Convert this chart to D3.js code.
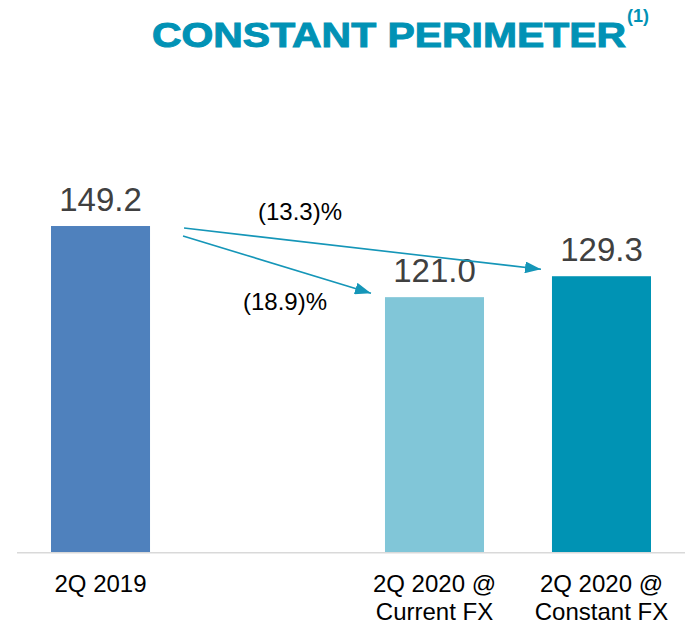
<!DOCTYPE html>
<html>
<head>
<meta charset="utf-8">
<script src="https://cdn.jsdelivr.net/npm/d3@7"></script>
<style>
  body { margin: 0; background: #fff; }
  svg { display: block; font-family: "Liberation Sans", Arial, sans-serif; }
</style>
</head>
<body>
<script>
// chart values
var categories = ["2Q 2019", "2Q 2020 @ Current FX", "2Q 2020 @ Constant FX"];
var categoryLines = [["2Q 2019"], ["2Q 2020 @", "Current FX"], ["2Q 2020 @", "Constant FX"]];
var values = [149.2, 121.0, 129.3];
var valueLabels = ["149.2", "121.0", "129.3"];
var barColors = ["#4f81bd", "#81c6d8", "#0093b4"];
var changeLabels = ["(13.3)%", "(18.9)%"];

var width = 690, height = 627;

var svg = d3.select("body").append("svg")
  .attr("width", width)
  .attr("height", height);

// one empty slot between the first bar and the 2020 bars
var slots = [categories[0], "gap", categories[1], categories[2]];

var x = d3.scaleBand()
  .domain(slots)
  .range([17, 685])
  .paddingInner(0.407)
  .paddingOuter(0.2036);

var y = d3.scaleLinear()
  .domain([20, 150])
  .range([552, 224]);

var bw = x.bandwidth();

// title
svg.append("text")
  .attr("x", 152)
  .attr("y", 47)
  .attr("fill", "#0192b5")
  .attr("stroke", "#0192b5")
  .attr("stroke-width", 1)
  .style("font-size", "35.5px")
  .style("font-weight", "bold")
  .attr("textLength", 474)
  .attr("lengthAdjust", "spacingAndGlyphs")
  .text("CONSTANT PERIMETER");

svg.append("text")
  .attr("x", 627)
  .attr("y", 22)
  .attr("fill", "#0192b5")
  .style("font-size", "18px")
  .style("font-weight", "bold")
  .text("(1)");

// bars
svg.selectAll(".bar")
  .data(values)
  .enter()
  .append("rect")
  .attr("class", "bar")
  .attr("x", function (d, i) { return x(categories[i]); })
  .attr("y", function (d) { return y(d); })
  .attr("width", bw)
  .attr("height", function (d) { return y(20) - y(d); })
  .attr("fill", function (d, i) { return barColors[i]; });

// baseline
svg.append("line")
  .attr("x1", 17)
  .attr("x2", 685)
  .attr("y1", y(20) + 0.8)
  .attr("y2", y(20) + 0.8)
  .attr("stroke", "#d9d9d9")
  .attr("stroke-width", 1.6);

// value labels
svg.selectAll(".value")
  .data(values)
  .enter()
  .append("text")
  .attr("class", "value")
  .attr("x", function (d, i) { return x(categories[i]) + bw / 2; })
  .attr("y", function (d) { return y(d) - 15; })
  .attr("text-anchor", "middle")
  .attr("fill", "#404040")
  .style("font-size", "33px")
  .text(function (d, i) { return valueLabels[i]; });

// category labels
var cat = svg.selectAll(".cat")
  .data(categoryLines)
  .enter()
  .append("text")
  .attr("class", "cat")
  .attr("text-anchor", "middle")
  .attr("fill", "#000")
  .style("font-size", "24px");

cat.selectAll("tspan")
  .data(function (d, i) { return d.map(function (t) { return { t: t, i: i }; }); })
  .enter()
  .append("tspan")
  .attr("x", function (d) { return x(categories[d.i]) + bw / 2; })
  .attr("y", function (d, j) { return 592 + j * 28; })
  .text(function (d) { return d.t; });

// arrows
svg.append("defs").append("marker")
  .attr("id", "head")
  .attr("markerUnits", "userSpaceOnUse")
  .attr("viewBox", "0 0 16 12")
  .attr("refX", 16)
  .attr("refY", 6)
  .attr("markerWidth", 16)
  .attr("markerHeight", 12)
  .attr("orient", "auto")
  .append("path")
  .attr("d", "M0,0L16,6L0,12Z")
  .attr("fill", "#1596b8");

var x0 = x(categories[0]) + bw;
var arrows = [
  { x1: x0 + 34, y1: y(values[0]) + 2, x2: x(categories[2]) - 11, y2: y(values[2]) - 7 },
  { x1: x0 + 33, y1: y(values[0]) + 10, x2: x(categories[1]) - 14, y2: y(values[1]) - 4 }
];

svg.selectAll(".arrow")
  .data(arrows)
  .enter()
  .append("line")
  .attr("class", "arrow")
  .attr("x1", function (d) { return d.x1; })
  .attr("y1", function (d) { return d.y1; })
  .attr("x2", function (d) { return d.x2; })
  .attr("y2", function (d) { return d.y2; })
  .attr("stroke", "#1596b8")
  .attr("stroke-width", 1.6)
  .attr("marker-end", "url(#head)");

// change labels
var labelPos = [[300, 220], [285, 310]];
svg.selectAll(".change")
  .data(changeLabels)
  .enter()
  .append("text")
  .attr("class", "change")
  .attr("x", function (d, i) { return labelPos[i][0]; })
  .attr("y", function (d, i) { return labelPos[i][1]; })
  .attr("text-anchor", "middle")
  .attr("fill", "#000")
  .style("font-size", "24px")
  .text(function (d) { return d; });
</script>
</body>
</html>
